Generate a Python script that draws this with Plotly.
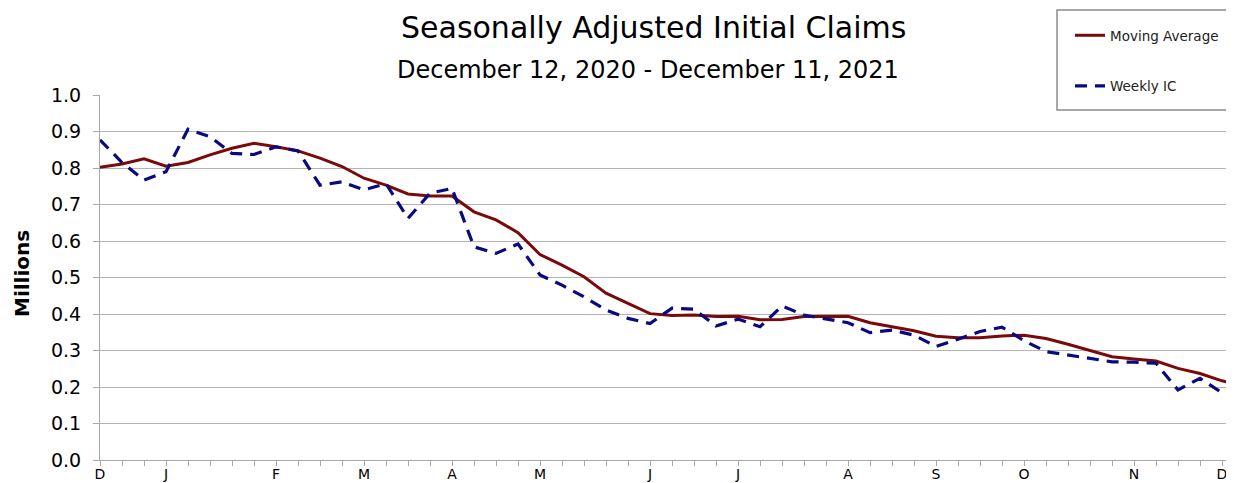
import pandas as pd
import plotly.graph_objects as go

# ---- data (millions) ----
week_dates = pd.date_range("2020-12-12", periods=53, freq="7D")

moving_average = [
    0.802, 0.811, 0.825, 0.805, 0.815, 0.836, 0.854, 0.868, 0.858, 0.847,
    0.827, 0.804, 0.772, 0.753, 0.729, 0.723, 0.723, 0.680, 0.658, 0.623,
    0.563, 0.534, 0.502, 0.457, 0.429, 0.401, 0.396, 0.397, 0.393, 0.394,
    0.384, 0.385, 0.393, 0.394, 0.394, 0.376, 0.365, 0.354, 0.339, 0.335,
    0.335, 0.340, 0.342, 0.333, 0.317, 0.299, 0.283, 0.277, 0.271, 0.251,
    0.237, 0.217, 0.203,
]

weekly_ic = [
    0.877, 0.815, 0.767, 0.790, 0.906, 0.886, 0.840, 0.837, 0.858, 0.847,
    0.753, 0.762, 0.740, 0.757, 0.662, 0.731, 0.744, 0.584, 0.566, 0.592,
    0.507, 0.479, 0.447, 0.411, 0.388, 0.374, 0.416, 0.413, 0.367, 0.386,
    0.365, 0.422, 0.397, 0.386, 0.376, 0.349, 0.356, 0.342, 0.311, 0.331,
    0.352, 0.364, 0.327, 0.297, 0.288, 0.279, 0.269, 0.268, 0.265, 0.192,
    0.224, 0.184, 0.206,
]

month_tick_dates = ["2020-12-12", "2021-01-02", "2021-02-06", "2021-03-06",
                    "2021-04-03", "2021-05-01", "2021-06-05", "2021-07-03",
                    "2021-08-07", "2021-09-04", "2021-10-02", "2021-11-06",
                    "2021-12-04"]
month_tick_letters = ["D", "J", "F", "M", "A", "M", "J", "J", "A", "S", "O", "N", "D"]

y_ticks = [0.0, 0.1, 0.2, 0.3, 0.4, 0.5, 0.6, 0.7, 0.8, 0.9, 1.0]

# ---- layout helpers ----
# The page body has an 8px margin, so the figure is offset by 8px;
# all target positions below are given in page pixels.
OFF = 8
PAGE_W, PAGE_H = 1234, 483
W, H = PAGE_W - OFF, PAGE_H - OFF
PLOT_LEFT, PLOT_TOP, PLOT_BOTTOM, PLOT_RIGHT = 100, 95, 460, 1234
L = PLOT_LEFT - OFF
T = PLOT_TOP - OFF
R = PAGE_W - PLOT_RIGHT
B = PAGE_H - PLOT_BOTTOM
PW = PLOT_RIGHT - PLOT_LEFT
PH = PLOT_BOTTOM - PLOT_TOP


def px_x(px):
    return (px - PLOT_LEFT) / PW


def px_y(py):
    return (PLOT_BOTTOM - py) / PH


FONT = "DejaVu Sans"

letter_map = dict(zip(pd.to_datetime(month_tick_dates), month_tick_letters))
tick_text = [letter_map.get(d, "") for d in week_dates]

fig = go.Figure()
fig.add_trace(go.Scatter(
    x=week_dates, y=moving_average, mode="lines", name="Moving Average",
    line=dict(color="#7a0a0a", width=3), legendgroup="ma",
))
fig.add_trace(go.Scatter(
    x=week_dates, y=weekly_ic, mode="lines", name="Weekly IC",
    line=dict(color="#0a0a80", width=3.2, dash="12px,8px"), legendgroup="ic",
))

x_end = week_dates[0] + pd.Timedelta(days=7 * PW / 22.0)

fig.update_layout(
    width=W, height=H,
    margin=dict(l=L, r=R, t=T, b=B, autoexpand=False),
    paper_bgcolor="white", plot_bgcolor="white",
    font=dict(family=FONT, color="black"),
    showlegend=True,
    legend=dict(
        x=px_x(1070), y=px_y(20), xanchor="left", yanchor="top",
        bgcolor="rgba(0,0,0,0)", borderwidth=0,
        font=dict(family=FONT, size=13.5, color="#222"),
        traceorder="grouped", tracegroupgap=30, itemwidth=30,
    ),
    xaxis=dict(
        type="date", range=[week_dates[0], x_end],
        tickmode="array", tickvals=week_dates, ticktext=tick_text,
        ticks="outside", ticklen=5, tickcolor="#a8a8a8", tickwidth=1,
        ticklabelstandoff=-4,
        showline=True, linecolor="#a8a8a8", linewidth=1,
        showgrid=False, zeroline=False,
        tickfont=dict(family=FONT, size=14, color="black"),
        automargin=False,
    ),
    yaxis=dict(
        range=[0, 1.0], tickmode="array", tickvals=y_ticks,
        tickformat=".1f",
        ticks="outside", ticklen=6, tickcolor="#a8a8a8", tickwidth=1,
        ticklabelstandoff=8,
        showline=True, linecolor="#a8a8a8", linewidth=1,
        showgrid=True, gridcolor="#b4b4b4", gridwidth=1,
        zeroline=False,
        tickfont=dict(family=FONT, size=19, color="black"),
        automargin=False,
    ),
    shapes=[dict(
        type="rect", xref="paper", yref="paper",
        x0=px_x(1057), x1=px_x(1232), y0=px_y(110), y1=px_y(10),
        line=dict(color="#8c8c8c", width=1.5), fillcolor="white",
        layer="above",
    )],
    annotations=[
        dict(text="Seasonally Adjusted Initial Claims", xref="paper", yref="paper",
             x=px_x(653), y=px_y(28), xanchor="center", yanchor="middle",
             showarrow=False, font=dict(family=FONT, size=30, color="black")),
        dict(text="December 12, 2020 - December 11, 2021", xref="paper", yref="paper",
             x=px_x(648), y=px_y(70), xanchor="center", yanchor="middle",
             showarrow=False, font=dict(family=FONT, size=24, color="black")),
        dict(text="<b>Millions</b>", xref="paper", yref="paper",
             x=px_x(22), y=px_y(274), xanchor="center", yanchor="middle",
             textangle=-90, showarrow=False,
             font=dict(family=FONT, size=20, color="black")),
    ],
)

fig.write_html("out.html")
